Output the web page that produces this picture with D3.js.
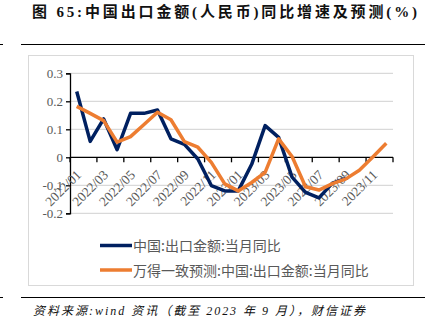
<!DOCTYPE html>
<html><head><meta charset="utf-8">
<script src="https://cdn.jsdelivr.net/npm/d3@7"></script>
<style>body{margin:0;background:#fff}svg{display:block}</style>
</head><body>
<svg id="c" width="437" height="329"></svg>
<script>
const months = ["2022/01","2022/02","2022/03","2022/04","2022/05","2022/06","2022/07","2022/08","2022/09","2022/10","2022/11","2022/12",
"2023/01","2023/02","2023/03","2023/04","2023/05","2023/06","2023/07","2023/08","2023/09","2023/10","2023/11","2023/12"];
const actual = [0.235,0.057,0.137,0.027,0.157,0.157,0.169,0.066,0.046,-0.006,-0.101,-0.120,
-0.120,-0.025,0.113,0.071,-0.071,-0.125,-0.145,-0.092,-0.075,null,null,null];
const forecast = [0.182,0.157,0.131,0.054,0.074,0.117,0.161,0.134,0.056,0.036,-0.018,-0.095,
-0.120,-0.090,-0.054,0.066,0.003,-0.105,-0.117,-0.094,-0.077,-0.046,0.001,0.050];
const yTicks = [0.3,0.2,0.1,0,-0.1,-0.2];
const yLabels = ["0.3","0.2","0.1","0","-0.1","-0.2"];
const legendLabels = ["中国:出口金额:当月同比","万得一致预测:中国:出口金额:当月同比"];
const colors = ["#002060","#ED7D31"];

const svg = d3.select("#c");
const plotL = 70, plotR = 393;
const x = d3.scaleBand().domain(months).range([plotL, plotR]);
const y = d3.scaleLinear().domain([-0.2,0.3]).range([213.3,73.3]);

// title
svg.append("text").attr("x",32).attr("y",16.5).attr("textLength",385).attr("lengthAdjust","spacing")
 .attr("font-family","'Liberation Serif','Noto Sans CJK SC'").attr("font-weight","bold").attr("font-size",15).attr("fill","#111")
 .text("图 65:中国出口金额(人民币)同比增速及预测(%)");
// rules
[44.5, 297.5].forEach(yy=>{
  svg.append("line").attr("x1",21).attr("x2",425).attr("y1",yy).attr("y2",yy).attr("stroke","#000").attr("stroke-width",1);
  svg.append("line").attr("x1",0).attr("x2",3).attr("y1",yy).attr("y2",yy).attr("stroke","#000").attr("stroke-width",1);
});
// chart frame
svg.append("rect").attr("x",28.5).attr("y",55.5).attr("width",385).attr("height",230).attr("fill","#fff").attr("stroke","#d9d9d9");

// gridlines
svg.append("g").selectAll("line").data(yTicks.filter(d=>d!==0)).join("line")
 .attr("x1",plotL).attr("x2",plotR).attr("y1",d=>y(d)).attr("y2",d=>y(d)).attr("stroke","#d9d9d9").attr("stroke-width",1.2);

// y axis
const yAxis = d3.axisLeft(y).tickValues(yTicks).tickSize(4).tickFormat((d,i)=>yLabels[i]);
const gy = svg.append("g").attr("transform",`translate(${plotL},0)`).call(yAxis);
gy.select(".domain").attr("stroke","#000").attr("stroke-width",1.3);
gy.selectAll(".tick line").attr("stroke","#000").attr("stroke-width",1.3);
gy.selectAll(".tick text").attr("font-family","'Liberation Serif'").attr("font-size",13).attr("fill","#595959").attr("x",-7);

// x axis at zero
const g0 = svg.append("g");
g0.append("line").attr("x1",plotL).attr("x2",plotR).attr("y1",y(0)).attr("y2",y(0)).attr("stroke","#000").attr("stroke-width",1.3);
const tickPos = months.filter((m,i)=>i%2===0).map(m=>x(m)).concat([plotR]);
g0.selectAll("line.t").data(tickPos).join("line").attr("class","t")
 .attr("x1",d=>d).attr("x2",d=>d).attr("y1",y(0)).attr("y2",y(0)+5).attr("stroke","#000").attr("stroke-width",1.3);
g0.selectAll("text").data(months.filter((m,i)=>i%2===0)).join("text")
 .attr("transform",d=>`translate(${x(d)+x.bandwidth()/2+2},${y(0)+15}) rotate(-45)`)
 .attr("text-anchor","end").attr("dy","0.35em")
 .attr("font-family","'Liberation Serif'").attr("font-size",13.5).attr("fill","#595959").text(d=>d);

// lines
const line = d3.line().defined(d=>d[1]!==null).x(d=>x(d[0])+x.bandwidth()/2).y(d=>y(d[1]));
[actual, forecast].forEach((s,i)=>{
  svg.append("path").datum(months.map((m,j)=>[m,s[j]])).attr("d",line)
   .attr("fill","none").attr("stroke",colors[i]).attr("stroke-width",3.5).attr("stroke-linejoin","round");
});

// legend
const lg = svg.append("g");
[246.5, 271].forEach((yy,i)=>{
  lg.append("line").attr("x1",100).attr("x2",132).attr("y1",yy-1).attr("y2",yy-1).attr("stroke",colors[i]).attr("stroke-width",3.5);
  lg.append("text").attr("x",133).attr("y",yy).attr("dy","0.35em").attr("font-family","'Noto Sans CJK SC'")
   .attr("font-size",14).attr("fill","#595959").text(legendLabels[i]);
});

// source
svg.append("text").attr("x",33).attr("y",315).attr("textLength",332).attr("lengthAdjust","spacing")
 .attr("font-family","'Liberation Serif','Noto Sans CJK SC'").attr("font-style","italic").attr("font-size",12).attr("fill","#111")
 .text("资料来源:wind 资讯（截至 2023 年 9 月），财信证券");
</script>
</body></html>
